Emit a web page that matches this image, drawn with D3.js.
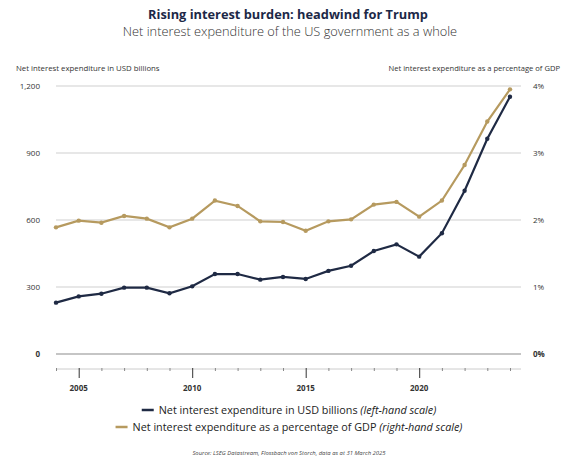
<!DOCTYPE html>
<html>
<head>
<meta charset="utf-8">
<script src="https://cdn.jsdelivr.net/npm/d3@7"></script>
<style>
    body { margin: 0; background: #ffffff; }
    text { font-family: "Open Sans", "Noto Sans", sans-serif; }
</style>
</head>
<body>
<div id="chart"></div>
<script>
//years on the x axis
var years = [2004, 2005, 2006, 2007, 2008, 2009, 2010, 2011, 2012, 2013, 2014,
             2015, 2016, 2017, 2018, 2019, 2020, 2021, 2022, 2023, 2024];
//net interest expenditure in USD billions (left scale)
var usdBillions = [230, 258, 270, 297, 297, 272, 303, 358, 358, 333, 345,
                   336, 372, 395, 461, 491, 436, 541, 731, 964, 1152];
//net interest expenditure as % of GDP (right scale)
var pctGdp = [1.89, 1.99, 1.96, 2.06, 2.02, 1.89, 2.02, 2.29, 2.21, 1.98, 1.97,
              1.84, 1.98, 2.01, 2.23, 2.27, 2.05, 2.29, 2.82, 3.47, 3.95];
var leftTicks = [0, 300, 600, 900, 1200];
var rightTicks = [0, 1, 2, 3, 4];
var labelYears = [2005, 2010, 2015, 2020];

var navy = "#1f2a44";
var gold = "#b69a5f";

var width = 576, height = 467;

var svg = d3.select("#chart").append("svg")
    .attr("width", width)
    .attr("height", height);

//titles
svg.append("text")
    .attr("x", 288).attr("y", 19)
    .attr("text-anchor", "middle")
    .attr("font-size", "12.8")
    .attr("font-weight", "bold")
    .attr("fill", "#1c2847")
    .text("Rising interest burden: headwind for Trump");

svg.append("text")
    .attr("x", 290).attr("y", 36)
    .attr("text-anchor", "middle")
    .attr("font-size", "12.8")
    .attr("font-weight", "300")
    .attr("fill", "#333333")
    .text("Net interest expenditure of the US government as a whole");

svg.append("text")
    .attr("x", 16).attr("y", 71)
    .attr("font-size", "7.8")
    .attr("fill", "#333333")
    .text("Net interest expenditure in USD billions");

svg.append("text")
    .attr("x", 560).attr("y", 71)
    .attr("text-anchor", "end")
    .attr("font-size", "7.6")
    .attr("fill", "#333333")
    .text("Net interest expenditure as a percentage of GDP");

//scales
var x = d3.scaleLinear().domain([2004, 2024]).range([56, 510]);
var yLeft = d3.scaleLinear().domain([0, 1200]).range([354, 86]);
var yRight = d3.scaleLinear().domain([0, 4]).range([354, 86]);

//gridlines
svg.selectAll(".grid")
    .data(leftTicks)
    .enter()
    .append("line")
    .attr("class", "grid")
    .attr("x1", 56).attr("x2", 521)
    .attr("y1", d => yLeft(d)).attr("y2", d => yLeft(d))
    .attr("stroke", d => d === 0 ? "#8c8c8c" : "#cfcfcf")
    .attr("stroke-width", d => d === 0 ? 1.2 : 1);

//left labels
svg.selectAll(".leftLabel")
    .data(leftTicks)
    .enter()
    .append("text")
    .attr("class", "leftLabel")
    .attr("x", 40)
    .attr("y", d => yLeft(d) + 3)
    .attr("text-anchor", "end")
    .attr("font-size", "8")
    .attr("font-weight", d => d === 0 ? "bold" : "normal")
    .attr("fill", "#333333")
    .text(d => d3.format(",")(d));

//right labels
svg.selectAll(".rightLabel")
    .data(rightTicks)
    .enter()
    .append("text")
    .attr("class", "rightLabel")
    .attr("x", 533)
    .attr("y", d => yRight(d) + 3)
    .attr("font-size", "8")
    .attr("font-weight", d => d === 0 ? "bold" : "normal")
    .attr("fill", "#333333")
    .text(d => d + "%");

//x axis with a tick for each year
var xAxis = d3.axisBottom(x)
    .tickValues(years)
    .tickSize(3)
    .tickFormat("");

var axisG = svg.append("g")
    .attr("transform", "translate(0,369)")
    .call(xAxis);
axisG.select(".domain")
    .attr("d", "M56,0H521")
    .attr("stroke", "#cccccc");
axisG.selectAll(".tick line")
    .attr("stroke", d => labelYears.indexOf(d) >= 0 ? "#333333" : "#888888")
    .attr("y1", -1)
    .attr("y2", d => labelYears.indexOf(d) >= 0 ? 9 : 2);

svg.selectAll(".yearLabel")
    .data(labelYears)
    .enter()
    .append("text")
    .attr("class", "yearLabel")
    .attr("x", d => x(d))
    .attr("y", 391)
    .attr("text-anchor", "middle")
    .attr("font-size", "8")
    .attr("font-weight", "bold")
    .attr("fill", "#333333")
    .text(d => d);

//lines
var series = [
    {values: pctGdp, y: yRight, color: gold},
    {values: usdBillions, y: yLeft, color: navy}
];

series.forEach(function(s){
    var line = d3.line()
        .x((d, i) => x(years[i]))
        .y(d => s.y(d));

    svg.append("path")
        .attr("d", line(s.values))
        .attr("fill", "none")
        .attr("stroke", s.color)
        .attr("stroke-width", 2.2);

    svg.selectAll(null)
        .data(s.values)
        .enter()
        .append("circle")
        .attr("cx", (d, i) => x(years[i]))
        .attr("cy", d => s.y(d))
        .attr("r", 2.2)
        .attr("fill", s.color);
});

//legend, each row centred on the chart
var legend = [
    {color: navy, text: "Net interest expenditure in USD billions ", note: "(left-hand scale)", y: 410},
    {color: gold, text: "Net interest expenditure as a percentage of GDP ", note: "(right-hand scale)", y: 427}
];

legend.forEach(function(l){
    var sw = svg.append("line")
        .attr("y1", l.y).attr("y2", l.y)
        .attr("stroke", l.color)
        .attr("stroke-width", 2.5);

    var t = svg.append("text")
        .attr("y", l.y + 4)
        .attr("font-size", "10.8")
        .attr("fill", "#222222");
    t.append("tspan").text(l.text);
    t.append("tspan").attr("font-style", "italic").text(l.note);

    var w = t.node().getComputedTextLength();
    var start = 289 - (w + 17) / 2;
    sw.attr("x1", start).attr("x2", start + 12);
    t.attr("x", start + 17);
});

svg.append("text")
    .attr("x", 289).attr("y", 455)
    .attr("text-anchor", "middle")
    .attr("font-size", "5.9")
    .attr("font-style", "italic")
    .attr("fill", "#444444")
    .text("Source: LSEG Datastream, Flossbach von Storch, data as at 31 March 2025");
</script>
</body>
</html>
